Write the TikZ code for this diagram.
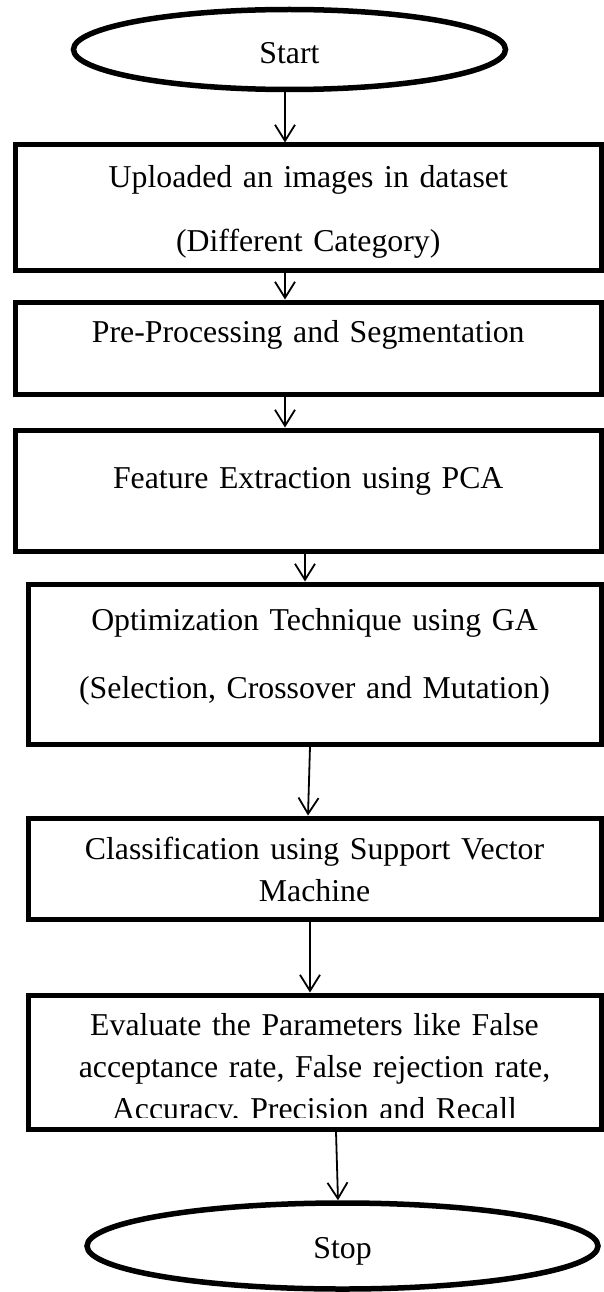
\documentclass[tikz,border=0pt]{standalone}
\usepackage{fontspec}
\setmainfont{Liberation Serif}
\usetikzlibrary{arrows.meta,shapes.geometric}

\begin{document}
\begin{tikzpicture}[x=1pt,y=-1pt,
		terminal/.style={ellipse,draw,line width=5.5pt,inner sep=0pt,text depth=0pt,font=\fontsize{31.8}{38}\selectfont},
		stepbox/.style={rectangle,draw,line width=5pt,inner sep=0pt},
		steptext/.style={anchor=base,inner sep=0pt,text width=570pt,align=center,font=\fontsize{31.8}{42}\selectfont},
		flow/.style={line width=1.8pt,-{Straight Barb[length=16pt,width=20pt]}}]
			%%%%% START %%%%%
			\def\xwide{308.25}
			\def\wwide{585.5pt}
			\def\xnarrow{314.5}
			\def\wnarrow{573pt}
			
			\useasboundingbox (0,0) rectangle (603,1292);
			
			\node[terminal,minimum width=432pt,minimum height=80pt,text height=29pt] (start) at (289.5,49.5) {Start};
			
			\node[stepbox,minimum width=\wwide,minimum height=125pt] (upload) at (\xwide,207.5) {};
			\node[steptext,font=\fontsize{31.8}{64}\selectfont] (uploadtxt) at (\xwide,187) {Uploaded an images in dataset\\(Different Category)};
			
			\node[stepbox,minimum width=\wwide,minimum height=92pt] (prep) at (\xwide,348) {};
			\node[steptext] (preptxt) at (\xwide,342) {Pre-Processing and Segmentation};
			
			\node[stepbox,minimum width=\wwide,minimum height=121pt] (feature) at (\xwide,490.5) {};
			\node[steptext] (featuretxt) at (\xwide,488) {Feature Extraction using PCA};
			
			\node[stepbox,minimum width=\wnarrow,minimum height=160pt] (optim) at (\xnarrow,664) {};
			\node[steptext,font=\fontsize{31.8}{68}\selectfont] (optimtxt) at (\xnarrow,630) {Optimization Technique using GA\\(Selection, Crossover and Mutation)};
			
			\node[stepbox,minimum width=\wnarrow,minimum height=101pt] (classify) at (\xnarrow,868.5) {};
			\node[steptext] (classifytxt) at (\xnarrow,859) {Classification using Support Vector\\Machine};
			
			\node[stepbox,minimum width=\wnarrow,minimum height=134pt] (evaluate) at (\xnarrow,1062) {};
			\begin{scope}
				\clip (28,995) rectangle (601,1117);
				\node[steptext] (evaluatetxt) at (\xnarrow,1035) {Evaluate the Parameters like False\\acceptance rate, False rejection rate,\\Accuracy, Precision and Recall};
			\end{scope}
			
			\node[terminal,minimum width=511pt,minimum height=86pt,text height=25pt] (stop) at (342.5,1246) {Stop};
			
			\draw[flow] ([xshift=-4.5pt]start.south) -- ([xshift=-23.25pt]upload.north);
			\draw[flow] ([xshift=-23.25pt]upload.south) -- ([xshift=-23.25pt]prep.north);
			\draw[flow] ([xshift=-23.25pt]prep.south) -- ([xshift=-23.25pt]feature.north);
			\draw[flow] ([xshift=-3.25pt]feature.south) -- ([xshift=-9.5pt]optim.north);
			\draw[flow] ([xshift=-4.5pt]optim.south) -- ([xshift=-6.5pt]classify.north);
			\draw[flow] ([xshift=-4.5pt]classify.south) -- ([xshift=-4.5pt]evaluate.north);
			\draw[flow] ([xshift=21.5pt]evaluate.south) -- ([xshift=-4.5pt]stop.north);
			%%%%% END %%%%%
\end{tikzpicture}
\end{document}
